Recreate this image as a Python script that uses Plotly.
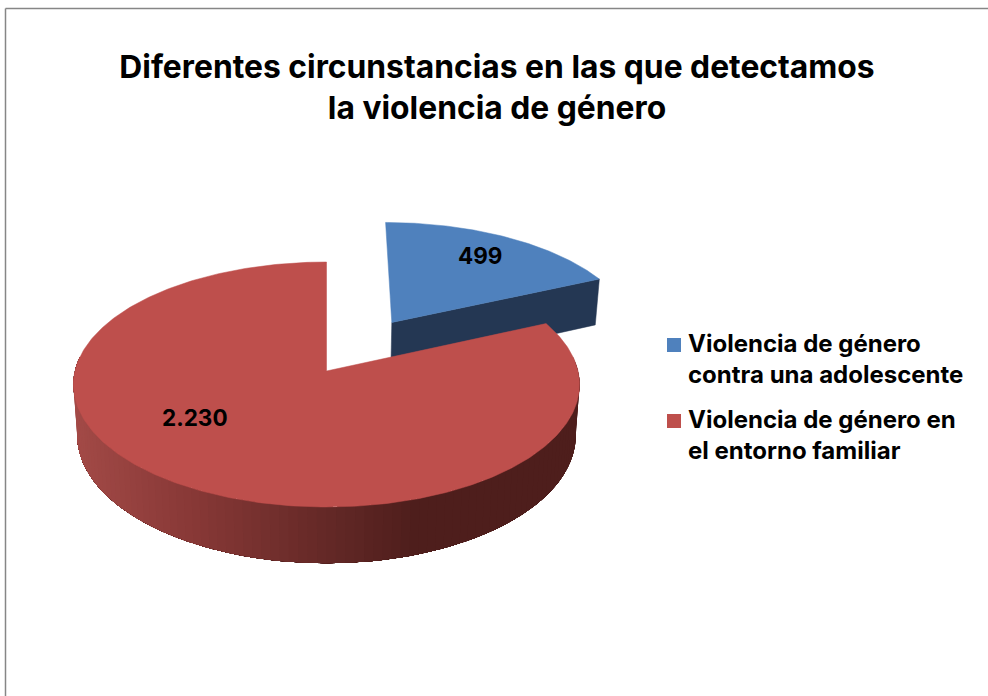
import math
import plotly.graph_objects as go

# Data
categories = ["Violencia de género<br>contra una adolescente", "Violencia de género en<br>el entorno familiar"]
values = [499, 2230]
value_labels = ["499", "2.230"]
title_text = "<b>Diferentes circunstancias en las que detectamos<br>la violencia de género</b>"

# Style / geometry of the projected 3D pie (pixels of the 988x696 canvas)
W, H = 988, 696
CX, CY, RX, RY, PERSP, DEPTH = 326.5, 371, 251.5, 121, 0.1102, 50
EXPLODE = 0.5
BOTTOM_SCALE = 0.985
TOP_COLORS = ["#4F81BD", "#BE4F4C"]
BLUE_WALL = "#243753"
FONT = "Inter"
LABEL_POS = [(480, 255), (195, 417)]
LEGEND_Y = [345, 421]


def project(u, v, bottom=False):
    s = 1 / (1 + PERSP * v)
    x = CX + RX * u * s
    y = CY - RY * v * s
    if bottom:
        x = CX + (x - CX) * BOTTOM_SCALE
        y = y + DEPTH * s
    return x, y


def arc(a0, a1, du=0.0, dv=0.0, bottom=False, n=120):
    pts = []
    for i in range(n + 1):
        a = a0 + (a1 - a0) * i / n
        pts.append(project(du + math.sin(a), dv + math.cos(a), bottom))
    return pts


def poly(fig, pts, color, line=0.0):
    fig.add_trace(go.Scatter(
        x=[p[0] for p in pts] + [pts[0][0]],
        y=[p[1] for p in pts] + [pts[0][1]],
        mode="lines", fill="toself", fillcolor=color,
        line=dict(color=color, width=line), hoverinfo="skip", showlegend=False))


def wall_color(x):
    stops = [(75, (163, 74, 71)), (200, (135, 56, 54)), (327, (101, 41, 39)),
             (420, (78, 30, 28)), (580, (78, 30, 28))]
    for (x0, c0), (x1, c1) in zip(stops, stops[1:]):
        if x <= x1:
            t = max(0, (x - x0) / (x1 - x0))
            return "rgb(%d,%d,%d)" % tuple(round(a + (b - a) * t) for a, b in zip(c0, c1))
    return "rgb(78,30,28)"


total = sum(values)
sweep = [2 * math.pi * v / total for v in values]

fig = go.Figure()

# --- first (exploded) slice
mid = sweep[0] / 2
du, dv = EXPLODE * math.sin(mid), EXPLODE * math.cos(mid)
apex_t = project(du, dv)
apex_b = project(du, dv, True)
end_t = project(du + math.sin(sweep[0]), dv + math.cos(sweep[0]))
end_b = project(du + math.sin(sweep[0]), dv + math.cos(sweep[0]), True)
poly(fig, [apex_t, end_t, end_b, apex_b], BLUE_WALL, 0.5)
poly(fig, [apex_t] + arc(0, sweep[0], du, dv), TOP_COLORS[0], 0.5)

# --- second slice: overlapping wall pieces on the rim, then the top face
a0, a1 = sweep[0], 2 * math.pi
vis0, vis1 = max(a0, math.pi / 2 - 0.12), min(a1, 3 * math.pi / 2 + 0.12)
STRIPS = 100
for i in range(STRIPS):
    s0 = vis0 + (vis1 - vis0) * i / STRIPS
    n = max(2, STRIPS - i)
    top = arc(vis1, s0, n=n)
    bot = arc(s0, vis1, bottom=True, n=n)
    px = (top[-1][0] + bot[0][0]) / 2
    poly(fig, top + bot, wall_color(px))
poly(fig, [project(0, 0)] + arc(a0, a1, n=360), TOP_COLORS[1], 0.5)

annotations = []
for (lx, ly), t in zip(LABEL_POS, value_labels):
    annotations.append(dict(x=lx, y=ly, text="<b>%s</b>" % t, showarrow=False,
                            font=dict(family=FONT, size=22.5, color="#000000")))
for y0, name in zip(LEGEND_Y, categories):
    annotations.append(dict(x=686, y=y0 - 18, text="<b>%s</b>" % name, showarrow=False,
                            xanchor="left", yanchor="top", align="left",
                            font=dict(family=FONT, size=24, color="#000000")))

shapes = [
    dict(type="line", x0=5.5, x1=5.5, y0=8.5, y1=H, line=dict(color="#868686", width=1.5)),
    dict(type="line", x0=5.5, x1=W, y0=8.5, y1=8.5, line=dict(color="#868686", width=1.5)),
]
for y0, col in zip(LEGEND_Y, TOP_COLORS):
    shapes.append(dict(type="rect", x0=667, x1=681, y0=y0 - 7, y1=y0 + 7,
                       fillcolor=col, line=dict(width=0)))

fig.update_layout(
    width=W, height=H, autosize=False,
    margin=dict(l=0, r=0, t=0, b=0),
    paper_bgcolor="white", plot_bgcolor="white",
    xaxis=dict(range=[0, W], visible=False, fixedrange=True),
    yaxis=dict(range=[H, 0], visible=False, fixedrange=True),
    title=dict(text=title_text, x=497 / W, xanchor="center", xref="paper",
               y=1 - 78 / H, yanchor="top", yref="container",
               font=dict(family=FONT, size=31.8, color="#000000")),
    showlegend=False, annotations=annotations, shapes=shapes,
)

fig.write_html("out.html", config={"displayModeBar": False},
               post_script="document.body.style.margin='0';document.body.style.overflow='hidden';")
